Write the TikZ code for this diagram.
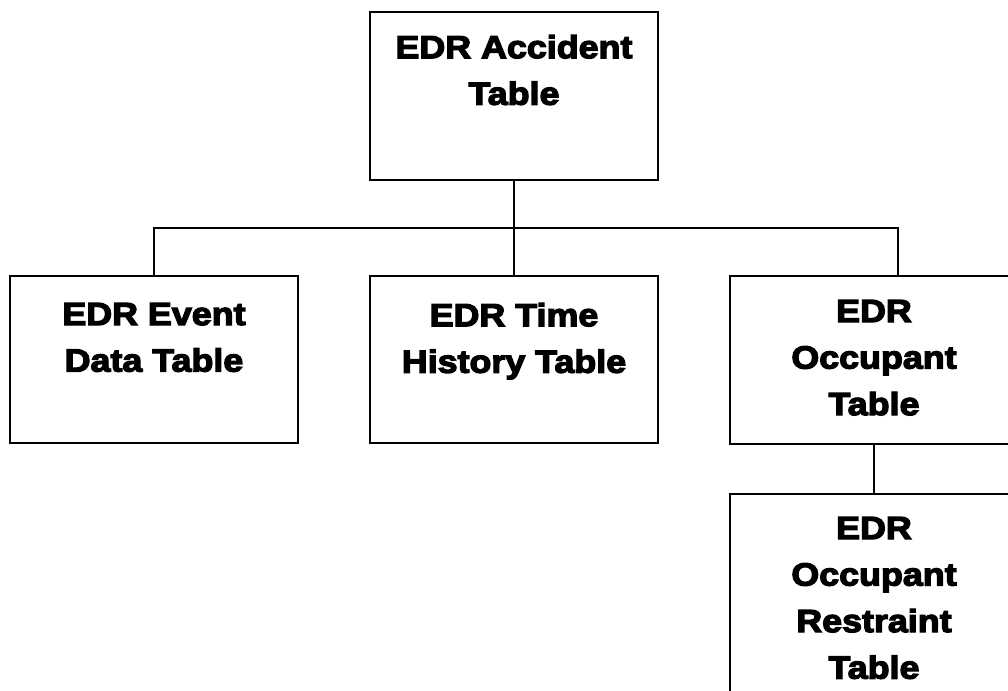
\documentclass[tikz,border=0pt]{standalone}
\usepackage{fontspec}
\newfontfamily\boxfont[FakeStretch=1.12,FakeBold=4]{Liberation Sans Bold}
\usetikzlibrary{calc}
\tikzset{
  box/.style={draw=black, line width=1.6pt, rectangle, inner sep=0pt, outer sep=0pt,
    anchor=north west, minimum width={288*0.75pt}, minimum height={167*0.75pt}},
  lbl/.style={anchor=north, align=center, inner sep=0pt, outer sep=0pt,
    font=\boxfont\fontsize{24}{34.9}\selectfont},
  conn/.style={draw=black, line width=1.6pt}
}
\begin{document}
\begin{tikzpicture}[x=0.75pt,y=-0.75pt]
\useasboundingbox (0,0) rectangle (1008,690);
\fill[white] (0,0) rectangle (1008,690);
\begin{scope}
\clip (0,0) rectangle (1008,690);
\node[box, minimum height={168*0.75pt}] (acc) at (370,12) {};
\node[box] (evt) at (10,276) {};
\node[box] (tim) at (370,276) {};
\node[box, minimum height={168*0.75pt}] (occ) at (730,276) {};
\node[box, minimum height={230*0.75pt}] (res) at (730,494) {};

\node[lbl] (accT) at ($(acc.north)+(0,23)$) {EDR Accident\\Table};
\node[lbl] (evtT) at ($(evt.north)+(0,27)$) {EDR Event\\Data Table};
\node[lbl] (timT) at ($(tim.north)+(0,27)$) {EDR Time\\History Table};
\node[lbl] (occT) at ($(occ.north)+(0,24)$) {EDR\\Occupant\\Table};
\node[lbl] (resT) at ($(res.north)+(0,23)$) {EDR\\Occupant\\Restraint\\Table};

\coordinate (j) at (514,228);
\coordinate (ob) at (898,276);
\draw[conn] (acc.south) -- (j);
\draw[conn] (evt.north) |- (ob |- j) -- (ob);
\draw[conn] (j) -- (tim.north);
\draw[conn] (occ.south) -- (res.north);
\end{scope}
\end{tikzpicture}
\end{document}
